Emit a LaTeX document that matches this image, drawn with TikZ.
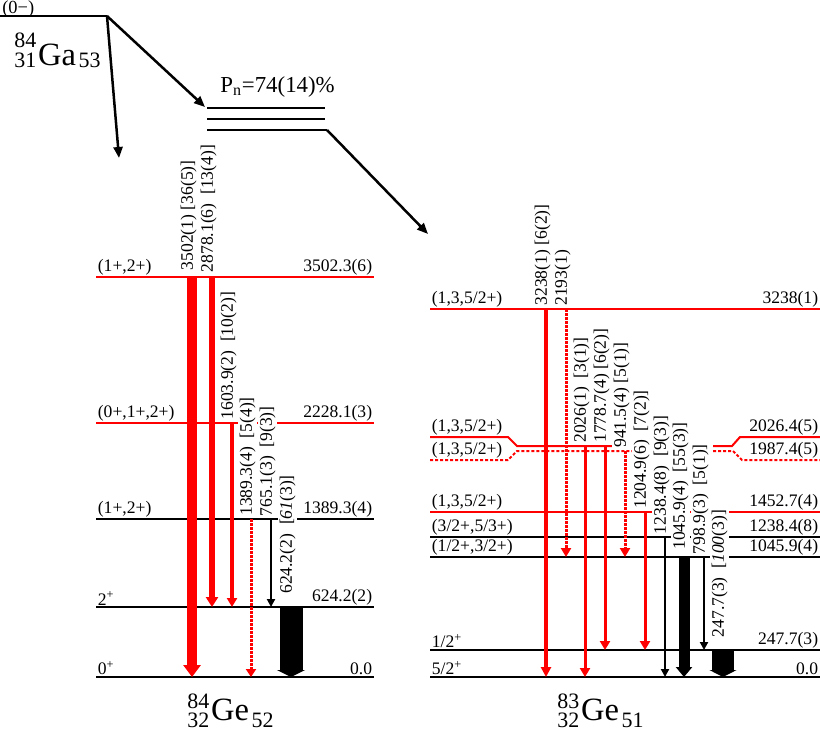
\documentclass[tikz,border=0pt]{standalone}
\usepackage{fontspec}
\setmainfont{Liberation Serif}
\usetikzlibrary{arrows.meta}

\newcommand{\nucl}[6]{{\fontsize{12.5}{12}\selectfont\rlap{\raisebox{#5}{#1}}\raisebox{#6}{#2}}\kern1pt{\fontsize{18.5}{19}\selectfont #3}\kern1.5pt{\fontsize{12.5}{12}\selectfont\raisebox{#6}{#4}}}

\begin{document}
\begin{tikzpicture}[x=0.2mm, y=-0.2mm,
  lev/.style={line width=0.4mm},
  levdot/.style={line width=0.4mm, dash pattern=on 0.6mm off 0.4mm},
  spin/.style={anchor=south west, inner sep=0.5pt, text=black, font=\fontsize{10}{12}\selectfont},
  ener/.style={anchor=south east, inner sep=0.5pt, text=black, font=\fontsize{10}{12}\selectfont},
  glab/.style={rotate=90, anchor=west, fill=white, inner sep=1pt, yshift=0.65mm, text=black, font=\fontsize{10}{12}\selectfont},
  gam/.style n args={3}{line width=#1, -{Triangle[width=#2, length=#3]}},
  gdot/.style={dash pattern=on 0.5mm off 0.3mm},
  beta/.style={line width=0.5mm, -{Triangle[width=1.8mm, length=2.2mm]}},
  nuc/.style={anchor=base west, inner sep=0pt}
]
  \useasboundingbox (0,0) rectangle (820,734);

  % parent 84Ga and beta / beta-n branches
  \draw[lev] (0,16) -- (107,16) coordinate (ga84);
  \node[anchor=base west, inner sep=0pt, font=\fontsize{10.5}{12}\selectfont] (gaspin) at (2,13.5) {(0−)};
  \node[nuc] (ga84name) at (14,65) {\nucl{84}{31}{Ga}{53}{10pt}{-1.7pt}};
  \coordinate (bdown) at (119,158);
  \coordinate (bntop) at (205,107);
  \draw[beta] (ga84) -- (bdown);
  \draw[beta] (ga84) -- (bntop);
  \draw[lev] (207,108) -- (325,108);
  \draw[lev] (207,119) -- (325,119);
  \draw[lev] (207,130) -- (327,130) coordinate (bnlow);
  \node[anchor=base west, inner sep=0pt, font=\fontsize{13}{14}\selectfont] (pn) at (220,92) {P\textsubscript{n}=74(14)\%};
  \coordinate (bnend) at (428,234);
  \draw[beta] (bnlow) -- (bnend);

  % 84Ge levels
  \draw[lev, red] (96,277) coordinate (a3502) node[spin]{(1+,2+)} -- (374,277) node[ener]{3502.3(6)};
  \draw[lev, red] (96,423) coordinate (a2228) node[spin]{(0+,1+,2+)} -- (374,423) node[ener]{2228.1(3)};
  \draw[lev] (96,519) coordinate (a1389) node[spin]{(1+,2+)} -- (374,519) node[ener]{1389.3(4)};
  \draw[lev] (96,607) coordinate (a624) node[spin]{2\textsuperscript{+}} -- (374,607) node[ener]{624.2(2)};
  \draw[lev] (96,677) coordinate (a0) node[spin]{0\textsuperscript{+}} -- (374,677) node[ener]{0.0};
  \node[nuc] (ge84name) at (187,720) {\nucl{84}{32}{Ge}{52}{6.8pt}{-4.3pt}};

  % 84Ge transitions
  \draw[gam={2mm}{3.4mm}{2.4mm}, red] (a3502 -| 192,0) node[glab]{3502(1) [36(5)]} -- (a0 -| 192,0);
  \draw[gam={1.2mm}{2.4mm}{2mm}, red] (a3502 -| 212,0) node[glab]{2878.1(6)~~[13(4)]} -- (a624 -| 212,0);
  \draw[gam={0.7mm}{2mm}{1.8mm}, red] (a2228 -| 232,0) node[glab]{1603.9(2)~~[10(2)]} -- (a624 -| 232,0);
  \draw[gam={0.6mm}{2mm}{1.6mm}, red, gdot] (a1389 -| 251,0) node[glab]{1389.3(4)~~[5(4)]} -- (a0 -| 251,0);
  \draw[gam={0.45mm}{1.6mm}{1.6mm}] (a1389 -| 271,0) node[glab]{765.1(3)~~[9(3)]} -- (a624 -| 271,0);
  \draw[gam={4.6mm}{5.6mm}{1.4mm}] (a624 -| 291,0) node[glab]{624.2(2)~~[\textit{61}(3)]} -- (a0 -| 291,0);

  % 83Ge levels
  \draw[lev, red] (430,309) coordinate (b3238) node[spin]{(1,3,5/2+)} -- (820,309) node[ener]{3238(1)};
  \draw[lev, red] (430,437) node[spin]{(1,3,5/2+)} -- (508,437) -- (517,446) coordinate (b2026) -- (613,446);
  \draw[lev, red] (713,446) -- (732,446) -- (740,437) -- (820,437) node[ener]{2026.4(5)};
  \draw[levdot, red] (430,460) node[spin]{(1,3,5/2+)} -- (508,460) -- (517,451) coordinate (b1987) -- (633,451);
  \draw[levdot, red] (713,451) -- (733,451) -- (742,460) -- (820,460) node[ener]{1987.4(5)};
  \draw[lev, red] (430,512) coordinate (b1452) node[spin]{(1,3,5/2+)} -- (820,512) node[ener]{1452.7(4)};
  \draw[lev] (430,537) coordinate (b1238) node[spin]{(3/2+,5/3+)} -- (820,537) node[ener]{1238.4(8)};
  \draw[lev] (430,557) coordinate (b1045) node[spin]{(1/2+,3/2+)} -- (820,557) node[ener]{1045.9(4)};
  \draw[lev] (430,650) coordinate (b247) node[spin]{1/2\textsuperscript{+}} -- (820,650) node[ener]{247.7(3)};
  \draw[lev] (430,677) coordinate (b0) node[spin]{5/2\textsuperscript{+}} -- (820,677) node[ener]{0.0};
  \node[nuc] (ge83name) at (557,720) {\nucl{83}{32}{Ge}{51}{6.8pt}{-4.3pt}};

  % 83Ge transitions
  \draw[gam={0.7mm}{2mm}{2mm}, red] (b3238 -| 546,0) node[glab]{3238(1) [6(2)]} -- (b0 -| 546,0);
  \draw[gam={0.6mm}{2mm}{1.8mm}, red, gdot] (b3238 -| 566,0) node[glab]{2193(1)} -- (b1045 -| 566,0);
  \draw[gam={0.6mm}{2mm}{1.8mm}, red] (b2026 -| 585,0) node[glab]{2026(1)~~[3(1)]} -- (b0 -| 585,0);
  \draw[gam={0.6mm}{2mm}{1.8mm}, red] (b2026 -| 605,0) node[glab]{1778.7(4) [6(2)]} -- (b247 -| 605,0);
  \draw[gam={0.6mm}{2mm}{1.8mm}, red, gdot] (b1987 -| 625,0) node[glab]{941.5(4) [5(1)]} -- (b1045 -| 625,0);
  \draw[gam={0.6mm}{2mm}{1.8mm}, red] (b1452 -| 645,0) node[glab]{1204.9(6)~~[7(2)]} -- (b247 -| 645,0);
  \draw[gam={0.4mm}{1.6mm}{1.6mm}] (b1238 -| 665,0) node[glab]{1238.4(8)~~[9(3)]} -- (b0 -| 665,0);
  \draw[gam={2.2mm}{3.2mm}{2mm}] (b1045 -| 684,0) node[glab]{1045.9(4)~~[55(3)]} -- (b0 -| 684,0);
  \draw[gam={0.5mm}{1.6mm}{1.6mm}] (b1045 -| 704,0) node[glab]{798.9(3)~~[5(1)]} -- (b247 -| 704,0);
  \draw[gam={4.4mm}{5.4mm}{1.4mm}] (b247 -| 723,0) node[glab]{247.7(3)~~[\textit{100}(3)]} -- (b0 -| 723,0);
\end{tikzpicture}
\end{document}
